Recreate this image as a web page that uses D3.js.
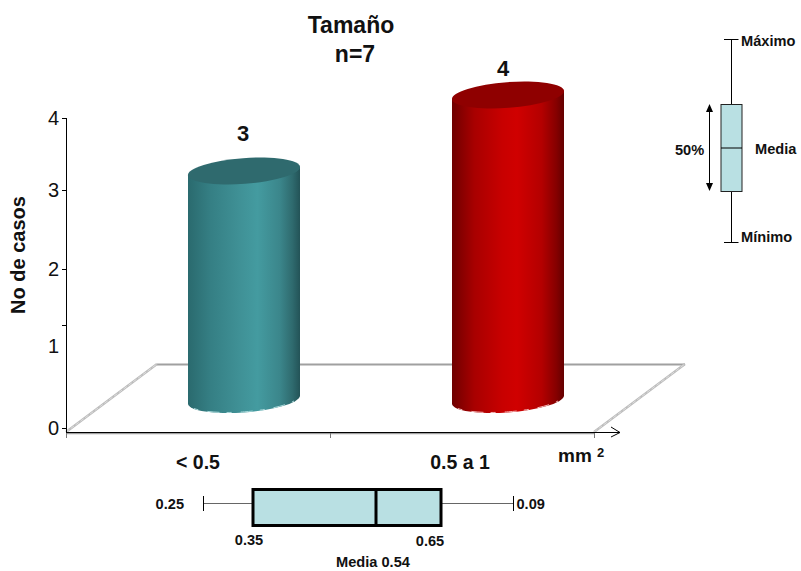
<!DOCTYPE html>
<html>
<head>
<meta charset="utf-8">
<script src="https://cdn.jsdelivr.net/npm/d3@7"></script>
<style>
html,body{margin:0;padding:0;background:#fff}
svg{display:block}
text{font-family:"Liberation Sans",Arial,sans-serif;fill:#111}
.b{font-weight:bold}
</style>
</head>
<body>
<svg id="c" width="801" height="571"></svg>
<script>
// Case counts per size class
const categories = ["< 0.5", "0.5 a 1"];
const counts = [3, 4];
const axisTicks = [0, 1, 2, 3, 4];

// Five-number summary of the size distribution, keyed as printed
const summaryKeys = ["0.25", "0.35", "0.54", "0.65", "0.09"];

const svg = d3.select("#c");
const defs = svg.append("defs");

// Vertical axis: tick marks and their numerals sit on hand-set stops
const tickY = d3.scaleLinear().domain(axisTicks).range([428, 325, 269, 190, 118]);
const tickLabelY = d3.scaleLinear().domain(axisTicks).range([428, 346, 269, 190, 118]);
// Height of the columns on the receding floor
const heightY = d3.scaleLinear().domain([0, 4]).range([399, 95]);
const bandX = d3.scalePoint().domain(categories).range([244, 508]);
const groundX = d3.scaleLinear().domain([0, 2]).range([66, 594]);
const boxX = d3.scaleOrdinal().domain(summaryKeys).range([204, 253, 376, 441, 513]);
const legendY = d3.scaleLinear().domain([0, 1]).range([191, 104]);

// Floor outline
const floor = svg.append("g").attr("fill", "none");
floor.append("path").attr("d", "M157,364.5 L685,364.5")
  .attr("stroke", "#a0a0a0").attr("stroke-width", 2);
floor.append("path").attr("d", "M66,432 L157,364 M594,432 L685,364")
  .attr("stroke", "#bdbdbd").attr("stroke-width", 2.4);
floor.append("path").attr("d", "M66,432 L157,364 M594,432 L685,364")
  .attr("stroke", "#e4e4e4").attr("stroke-width", 0.8).attr("stroke-dasharray", "4 2");
floor.append("path").attr("d", "M66,433.5 L594,433.5")
  .attr("stroke", "#a0a0a0").attr("stroke-width", 1.6);

// Column shading
const palettes = [
  {top: "#2f6a6e", edge: "#a9d8da", stops: [[0, "#2a6a6e"], [0.2, "#357f84"], [0.45, "#3f9095"], [0.62, "#449ba0"], [0.82, "#3b868b"], [0.93, "#2f6b6f"], [1, "#235357"]]},
  {top: "#8f0000", edge: "#f3b5b5", stops: [[0, "#6f0000"], [0.2, "#a80000"], [0.45, "#c80000"], [0.58, "#d00000"], [0.8, "#b40000"], [0.93, "#860000"], [1, "#640000"]]}
];
palettes.forEach((p, i) => {
  const g = defs.append("linearGradient").attr("id", "col" + i);
  p.stops.forEach(s => g.append("stop").attr("offset", s[0]).attr("stop-color", s[1]));
});

// Ellipse tilt gives the perspective of the column caps
const rx = 56.2, ry = 12.9, tilt = -4.3, halfW = 56, sideDy = 4;
counts.forEach((v, i) => {
  const cx = bandX(categories[i]);
  const top = heightY(v), base = heightY(0) + 1;
  const g = svg.append("g");
  g.append("path")
    .attr("d", `M${cx - halfW},${top + sideDy} L${cx - halfW},${base + sideDy}
      A${rx},${ry} ${tilt} 0 0 ${cx + halfW},${base - sideDy}
      L${cx + halfW},${top - sideDy} Z`)
    .attr("fill", `url(#col${i})`);
  g.append("path")
    .attr("d", `M${cx - halfW + 6},${base + 8.5} A${rx},${ry} ${tilt} 0 0 ${cx + halfW - 6},${base + 1}`)
    .attr("fill", "none").attr("stroke", palettes[i].edge)
    .attr("stroke-width", 1).attr("stroke-dasharray", "5 9 12 7");
  g.append("ellipse")
    .attr("rx", rx).attr("ry", ry)
    .attr("transform", `translate(${cx},${top}) rotate(${tilt})`)
    .attr("fill", palettes[i].top);
  svg.append("text").attr("class", "b")
    .attr("x", cx - 1 - (i ? 4 : 0)).attr("y", i ? 76 : 141)
    .attr("text-anchor", "middle").attr("font-size", 22).text(v);
});

// Axes
const ax = svg.append("g").attr("stroke", "#000").attr("fill", "none");
ax.append("path").attr("d", "M66.5,118 L66.5,437");
ax.selectAll(".t").data(axisTicks).join("path").attr("class", "t")
  .attr("d", d => `M62,${Math.round(tickY(d)) + 0.5} H66`);
ax.append("path").attr("d", "M66,432.5 H620 M611,427 L620,432.5 L611,437");
ax.selectAll(".g").data([0, 1, 2]).join("path").attr("class", "g")
  .attr("stroke", "#777")
  .attr("d", d => `M${groundX(d) + 0.5},433 V438`);

svg.selectAll(".yl").data(axisTicks).join("text").attr("class", "yl")
  .attr("x", 59).attr("y", d => tickLabelY(d) + 7)
  .attr("text-anchor", "end").attr("font-size", 20).text(d => d);

svg.append("text").attr("class", "b").attr("font-size", 20)
  .attr("text-anchor", "middle")
  .attr("transform", "translate(25,255) rotate(-90)").text("No de casos");

// Titles
svg.append("text").attr("class", "b").attr("font-size", 23)
  .attr("x", 351).attr("y", 33).attr("text-anchor", "middle").text("Tamaño");
svg.append("text").attr("class", "b").attr("font-size", 23)
  .attr("x", 355).attr("y", 62).attr("text-anchor", "middle").text("n=7");

// Category labels
svg.selectAll(".cat").data(categories).join("text").attr("class", "cat b")
  .attr("x", (d, i) => [198, 460][i]).attr("y", 469)
  .attr("text-anchor", "middle").attr("font-size", 19.5).text(d => d);
const unit = svg.append("text").attr("class", "b").attr("x", 558).attr("y", 462).attr("font-size", 19);
unit.append("tspan").text("mm ");
unit.append("tspan").attr("font-size", 13).attr("dy", -5).text("2");

// Summary box under the axis
const bw = svg.append("g").attr("fill", "none");
const yMid = 503.5;
bw.append("path").attr("stroke", "#666")
  .attr("d", `M${boxX("0.25")},${yMid} H${boxX("0.35")} M${boxX("0.65")},${yMid} H${boxX("0.09")}`);
bw.append("path").attr("stroke", "#000")
  .attr("d", `M${boxX("0.25") - 0.5},496 V511 M${boxX("0.09") + 0.5},496 V511`);
bw.append("rect").attr("x", boxX("0.35")).attr("y", 489.5)
  .attr("width", boxX("0.65") - boxX("0.35")).attr("height", 36)
  .attr("fill", "#b9e0e3").attr("stroke", "#000").attr("stroke-width", 3);
bw.append("path").attr("d", `M${boxX("0.54")},489 V526`).attr("stroke", "#000").attr("stroke-width", 3);

const small = (x, y, t, anchor) => svg.append("text").attr("class", "b")
  .attr("x", x).attr("y", y).attr("font-size", 14.6)
  .attr("text-anchor", anchor || "start").text(t);
small(boxX("0.25") - 20, 509, "0.25", "end");
small(boxX("0.09") + 3.5, 509, "0.09");
small(249, 545, "0.35", "middle");
small(430, 546, "0.65", "middle");
small(373, 567, "Media " + "0.54", "middle");

// Key explaining how the box reads
const key = svg.append("g").attr("fill", "none").attr("stroke", "#000");
const kx = 731.5;
key.append("path").attr("d", `M${kx},39.5 V${legendY(1)} M${kx},${legendY(0)} V242.5 M724,39.5 H${kx + 7} M724,242.5 H${kx + 7}`);
key.append("rect").attr("x", 721).attr("y", legendY(1) + 0.5)
  .attr("width", 21).attr("height", legendY(0) - legendY(1))
  .attr("fill", "#b9e0e3").attr("stroke", "#222");
key.append("path").attr("d", `M721,${legendY(0.5) + 0.5} H742`);
key.append("path").attr("d", `M709.5,110 V185`);
key.append("path").attr("fill", "#000").attr("stroke", "none")
  .attr("d", `M709.5,104 L713,112 L706,112 Z M709.5,191 L713,183 L706,183 Z`);
small(741, 46, "Máximo");
small(741, 242, "Mínimo");
small(755, 154, "Media");
small(675, 155, "50%");
</script>
</body>
</html>
